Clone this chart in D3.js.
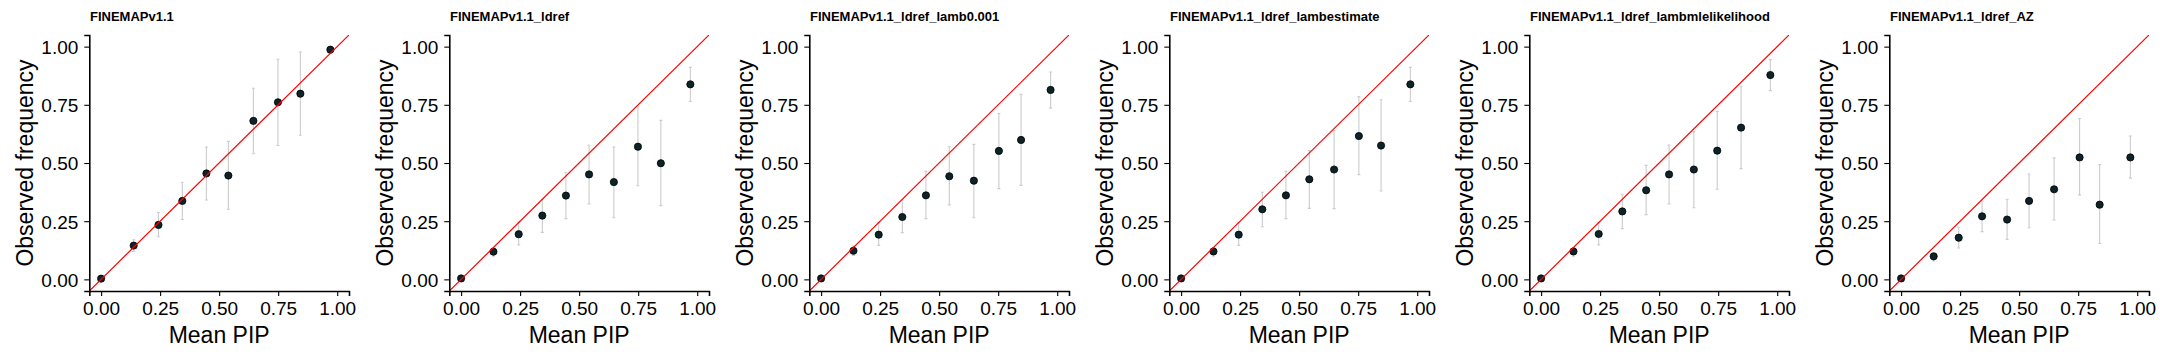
<!DOCTYPE html>
<html>
<head>
<meta charset="utf-8">
<script src="https://cdn.jsdelivr.net/npm/d3@7"></script>
<style>
	body { margin: 0; background: #fff; }
	svg { display: block; font-family: "Liberation Sans", Arial, sans-serif; }
	.panel-title { font-size: 13px; font-weight: bold; }
	.tick text { font-size: 19px; fill: #000; }
	.axis-title { font-size: 23px; fill: #000; }
</style>
</head>
<body>
<svg id="chart" width="2160" height="360"></svg>
<script>

//panel titles
var methods = [ "FINEMAPv1.1", "FINEMAPv1.1_ldref", "FINEMAPv1.1_ldref_lamb0.001", "FINEMAPv1.1_ldref_lambestimate", "FINEMAPv1.1_ldref_lambmlelikelihood", "FINEMAPv1.1_ldref_AZ" ];

//mean PIP of each bin (x)
var meanPip = [
	[ 0, 0.138, 0.243, 0.344, 0.446, 0.539, 0.645, 0.749, 0.844, 0.971 ],
	[ 0, 0.137, 0.244, 0.344, 0.444, 0.542, 0.647, 0.749, 0.846, 0.971 ],
	[ 0, 0.137, 0.244, 0.344, 0.444, 0.543, 0.647, 0.753, 0.847, 0.972 ],
	[ 0, 0.137, 0.244, 0.344, 0.444, 0.543, 0.648, 0.753, 0.847, 0.971 ],
	[ 0, 0.137, 0.244, 0.344, 0.445, 0.542, 0.647, 0.746, 0.847, 0.971 ],
	[ 0, 0.138, 0.244, 0.343, 0.449, 0.542, 0.648, 0.756, 0.841, 0.971 ]
];

//observed frequency of each bin (y)
var observed = [
	[ 0.003, 0.145, 0.234, 0.337, 0.455, 0.446, 0.681, 0.761, 0.798, 0.987 ],
	[ 0.004, 0.119, 0.194, 0.274, 0.360, 0.451, 0.418, 0.570, 0.499, 0.838 ],
	[ 0.004, 0.123, 0.192, 0.268, 0.361, 0.443, 0.424, 0.552, 0.599, 0.814 ],
	[ 0.004, 0.120, 0.192, 0.301, 0.361, 0.430, 0.472, 0.616, 0.575, 0.838 ],
	[ 0.004, 0.120, 0.195, 0.292, 0.383, 0.451, 0.472, 0.553, 0.652, 0.878 ],
	[ 0.004, 0.099, 0.179, 0.271, 0.257, 0.337, 0.387, 0.524, 0.321, 0.524 ]
];

//error bar lower bounds
var lower = [
	[ 0.000, 0.120, 0.183, 0.257, 0.341, 0.301, 0.540, 0.575, 0.619, 0.972 ],
	[ 0.000, 0.100, 0.148, 0.202, 0.261, 0.324, 0.265, 0.402, 0.317, 0.764 ],
	[ 0.000, 0.103, 0.146, 0.201, 0.261, 0.320, 0.265, 0.390, 0.404, 0.736 ],
	[ 0.000, 0.100, 0.146, 0.226, 0.261, 0.305, 0.304, 0.450, 0.380, 0.764 ],
	[ 0.000, 0.100, 0.148, 0.218, 0.278, 0.324, 0.308, 0.387, 0.476, 0.811 ],
	[ 0.000, 0.079, 0.135, 0.205, 0.172, 0.222, 0.255, 0.363, 0.154, 0.435 ]
];

//error bar upper bounds
var upper = [
	[ 0.008, 0.170, 0.287, 0.417, 0.569, 0.593, 0.821, 0.946, 0.977, 1.000 ],
	[ 0.008, 0.136, 0.246, 0.344, 0.460, 0.576, 0.569, 0.741, 0.683, 0.911 ],
	[ 0.008, 0.143, 0.244, 0.341, 0.464, 0.570, 0.580, 0.713, 0.795, 0.891 ],
	[ 0.008, 0.137, 0.244, 0.374, 0.464, 0.553, 0.639, 0.785, 0.772, 0.911 ],
	[ 0.008, 0.137, 0.244, 0.366, 0.490, 0.577, 0.635, 0.722, 0.830, 0.944 ],
	[ 0.008, 0.113, 0.224, 0.337, 0.344, 0.453, 0.522, 0.691, 0.493, 0.616 ]
];

var tickValues = [ 0, 0.25, 0.5, 0.75, 1 ];

;( function() {

	"use strict";

	var panelWidth = 360,
		plotLeft = 89.3,
		plotRight = 349,
		plotTop = 35,
		plotBottom = 291,
		domain = [ -0.05, 1.05 ],
		capHalf = 1.5,
		svg = d3.select( "#chart" );

	var x = d3.scaleLinear().domain( domain ).range( [ plotLeft, plotRight ] ),
		y = d3.scaleLinear().domain( domain ).range( [ plotBottom, plotTop ] ),
		fmt = d3.format( ".2f" );

	methods.forEach( function( name, p ) {

		var g = svg.append( "g" )
				.attr( "transform", "translate(" + ( p * panelWidth ) + ",0)" );

		//bin rows for this panel
		var rows = meanPip[ p ].map( function( d, i ) {
			return { x: d, y: observed[ p ][ i ], lo: lower[ p ][ i ], hi: upper[ p ][ i ] };
		} );

		//title
		g.append( "text" )
			.attr( "class", "panel-title" )
			.attr( "x", 90 )
			.attr( "y", 21 )
			.text( name );

		//clip to plot area so the diagonal stops at the panel edges
		var clipId = "clip" + p;
		g.append( "clipPath" ).attr( "id", clipId )
			.append( "rect" )
				.attr( "x", plotLeft ).attr( "y", plotTop )
				.attr( "width", plotRight - plotLeft ).attr( "height", plotBottom - plotTop );

		var plot = g.append( "g" ).attr( "clip-path", "url(#" + clipId + ")" );

		//error bars
		var bars = plot.selectAll( ".errbar" ).data( rows ).enter()
			.append( "g" )
				.attr( "class", "errbar" )
				.attr( "stroke", "#cccccc" )
				.attr( "stroke-width", 1.1 );
		bars.append( "line" )
			.attr( "x1", function( d ) { return x( d.x ); } )
			.attr( "x2", function( d ) { return x( d.x ); } )
			.attr( "y1", function( d ) { return y( d.lo ); } )
			.attr( "y2", function( d ) { return y( d.hi ); } );
		bars.append( "line" )
			.attr( "x1", function( d ) { return x( d.x ) - capHalf; } )
			.attr( "x2", function( d ) { return x( d.x ) + capHalf; } )
			.attr( "y1", function( d ) { return y( d.hi ); } )
			.attr( "y2", function( d ) { return y( d.hi ); } );
		bars.append( "line" )
			.attr( "x1", function( d ) { return x( d.x ) - capHalf; } )
			.attr( "x2", function( d ) { return x( d.x ) + capHalf; } )
			.attr( "y1", function( d ) { return y( d.lo ); } )
			.attr( "y2", function( d ) { return y( d.lo ); } );

		//points
		plot.selectAll( ".pt" ).data( rows ).enter()
			.append( "circle" )
				.attr( "class", "pt" )
				.attr( "cx", function( d ) { return x( d.x ); } )
				.attr( "cy", function( d ) { return y( d.y ); } )
				.attr( "r", 3.6 )
				.attr( "fill", "#0b2329" )
				.attr( "stroke", "#000" )
				.attr( "stroke-width", 0.8 );

		//identity line on top
		plot.append( "line" )
			.attr( "x1", x( domain[ 0 ] ) ).attr( "y1", y( domain[ 0 ] ) )
			.attr( "x2", x( domain[ 1 ] ) ).attr( "y2", y( domain[ 1 ] ) )
			.attr( "stroke", "#ff0000" )
			.attr( "stroke-width", 1.2 );

		//axes
		var xAxis = g.append( "g" )
			.attr( "transform", "translate(0," + plotBottom + ")" )
			.call( d3.axisBottom( x ).tickValues( tickValues ).tickFormat( fmt ).tickSizeOuter( 0 ).tickSize( 5 ).tickPadding( 6 ) );
		var yAxis = g.append( "g" )
			.attr( "transform", "translate(" + plotLeft + ",0)" )
			.call( d3.axisLeft( y ).tickValues( tickValues ).tickFormat( fmt ).tickSizeOuter( 0 ).tickSize( 5 ).tickPadding( 6 ) );
		[ xAxis, yAxis ].forEach( function( a ) {
			a.attr( "font-family", null ).attr( "font-size", null );
			a.select( ".domain" ).attr( "stroke", "#000" ).attr( "stroke-width", 1.6 );
			a.selectAll( ".tick line" ).attr( "stroke", "#000" ).attr( "stroke-width", 1.1 );
		} );
		yAxis.selectAll( ".tick text" ).attr( "dy", "0.36em" );

		//axis titles
		g.append( "text" )
			.attr( "class", "axis-title" )
			.attr( "text-anchor", "middle" )
			.attr( "x", ( plotLeft + plotRight ) / 2 )
			.attr( "y", 343 )
			.text( "Mean PIP" );
		g.append( "text" )
			.attr( "class", "axis-title" )
			.attr( "text-anchor", "middle" )
			.attr( "transform", "translate(33," + ( ( plotTop + plotBottom ) / 2 ) + ") rotate(-90)" )
			.text( "Observed frequency" );

	} );

})();
</script>
</body>
</html>
